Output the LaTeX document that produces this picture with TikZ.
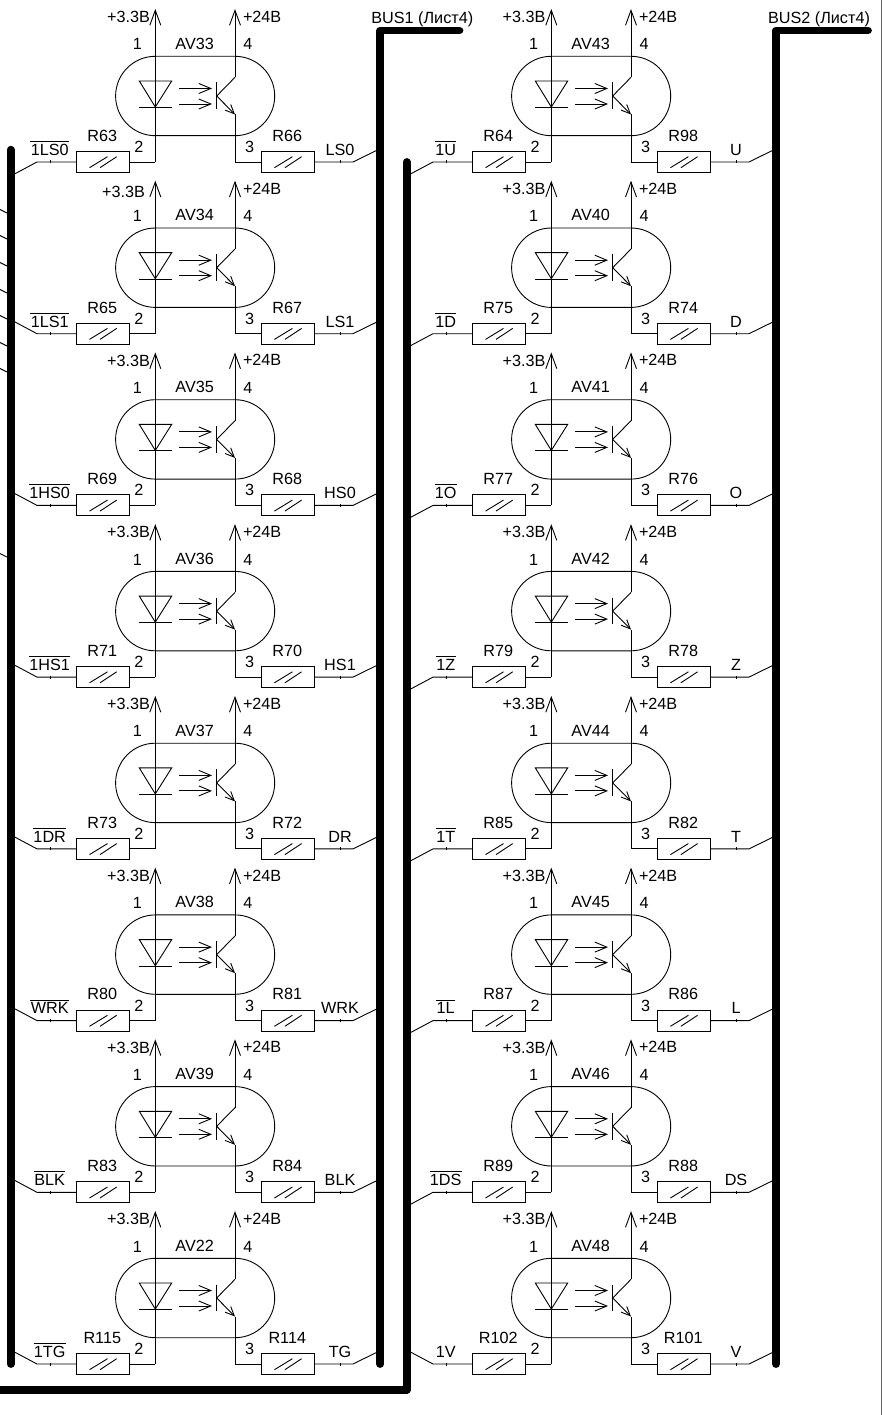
\documentclass[tikz,border=0pt]{standalone}
\usepackage{fontspec}
\setmainfont{Liberation Sans}
\usetikzlibrary{arrows.meta,calc}
\newcommand{\ovl}[1]{\vbox{\hrule height .9pt \kern 2.1pt \hbox{\kern.4pt #1\kern.4pt}}}
\tikzset{
  wire/.style={line width=.9pt,line join=miter},
  supply/.style={wire,-{Straight Barb[length=15pt,width=11pt]}},
  light/.style={wire,-{Straight Barb[length=12pt,width=10pt]}},
  emit/.style={wire,-{Straight Barb[length=9pt,width=8pt]}},
  bus/.style={line width=7.8pt,line cap=round,line join=round},
  lab/.style={inner sep=0pt,outer sep=0pt,anchor=base,font=\fontsize{16.2}{18}\selectfont},
  labr/.style={lab,anchor=base east},
  labl/.style={lab,anchor=base west},
  res/.style={draw,line width=.9pt,rectangle,minimum width=53pt,minimum height=21pt,inner sep=0pt,outer sep=0pt},
}
\begin{document}
\begin{tikzpicture}[x=1pt,y=-1pt]
\useasboundingbox (0,0) rectangle (888,1415);
\fill[white] (0,0) rectangle (888,1415);
% cells: col x-shift / wire y / AV / left R / right R / left label / right label / left diag dy / 3.3V label end x / 3.3V baseline
\foreach \cx/\cy/\av/\rl/\rr/\ll/\lr/\dd/\sx/\sy in {
 0/162/AV33/R63/R66/{\ovl{1LS0}}/LS0/12/150/-139.3,
 0/333.7/AV34/R65/R67/{\ovl{1LS1}}/LS1/-12/145/-136.4,
 0/505.4/AV35/R69/R68/{\ovl{1HS0}}/HS0/-12/150/-139.3,
 0/677.1/AV36/R71/R70/{\ovl{1HS1}}/HS1/-12/150/-139.3,
 0/848.9/AV37/R73/R72/{\ovl{1DR}}/DR/-12/150/-139.3,
 0/1020.6/AV38/R80/R81/{\ovl{WRK}}/WRK/-12/150/-139.3,
 0/1192.3/AV39/R83/R84/{\ovl{BLK}}/BLK/-12/150/-139.3,
 0/1364/AV22/R115/R114/{\ovl{1TG}}/TG/-12/150/-139.3,
 396/162/AV43/R64/R98/{\ovl{1U}}/U/12/149.5/-139.3,
 396/333.7/AV40/R75/R74/{\ovl{1D}}/D/12/149.5/-139.3,
 396/505.4/AV41/R77/R76/{\ovl{1O}}/O/12/149.5/-139.3,
 396/677.1/AV42/R79/R78/{\ovl{1Z}}/Z/12/149.5/-139.3,
 396/848.9/AV44/R85/R82/{\ovl{1T}}/T/12/149.5/-139.3,
 396/1020.6/AV45/R87/R86/{\ovl{1L}}/L/12/149.5/-139.3,
 396/1192.3/AV46/R89/R88/{\ovl{1DS}}/DS/12/149.5/-139.3,
 396/1364/AV48/R102/R101/1V/V/-12/149.5/-139.3}
{
\begin{scope}[shift={(\cx,\cy)}]
  % named points
  \coordinate (\av tipL) at (155.3,-153);
  \coordinate (\av tipR) at (235,-153);
  \coordinate (\av loL) at (155.3,0);
  \coordinate (\av loR) at (235,0);
  \coordinate (\av col) at (235,-84.7);
  \coordinate (\av base) at (216.7,-66);
  \coordinate (\av emi) at (235,-47.5);
  \coordinate (\av inA) at (37,0);
  \coordinate (\av inB) at (14.5,\dd);
  \coordinate (\av outA) at (353,0);
  \coordinate (\av outB) at (376,-11.3);
  % resistors
  \node[res] (\rl) at (102.8,0) {};
  \node[res] (\rr) at (287.7,0) {};
  \draw[wire] (\rl.center) ++(-13.3,5.7) -- ++(18,-11);
  \draw[wire] (\rl.center) ++(-2.8,5.7) -- ++(16.7,-11);
  \draw[wire] (\rr.center) ++(-13.3,5.7) -- ++(18,-11);
  \draw[wire] (\rr.center) ++(-2.8,5.7) -- ++(16.7,-11);
  % input and output connectors
  \draw[wire] (\av inB) -- (\av inA) -- (\rl.west);
  \draw[wire] (\rl.east) -- (\av loL);
  \draw[wire] (\rr.west) -- (\av loR);
  \draw[wire] (\rr.east) -- (\av outA) -- (\av outB);
  % ticks
  \draw[wire] (50,-1.5) -- (50,1.5);
  \draw[wire] (340,-1.5) -- (340,1.5);
  % package
  \draw[wire] (155.3,-105.7) -- (235,-105.7) arc[start angle=-90,end angle=90,radius=39.7]
    -- (155.3,-26.3) arc[start angle=90,end angle=270,radius=39.7] -- cycle;
  % diode and supply
  \draw[supply] (\av loL) -- (\av tipL);
  \draw[wire] (139.3,-81) -- (171.7,-81) -- (155.3,-55) -- cycle;
  \draw[wire] (139.3,-54.5) -- (171.7,-54.5);
  % light arrows
  \draw[light] (179,-73.5) -- (212,-73.5);
  \draw[light] (179,-58) -- (212,-58);
  % transistor
  \draw[wire] (216.7,-79.5) -- (216.7,-52.7);
  \draw[supply] (\av col) -- (\av tipR);
  \draw[wire] (\av col) -- (\av base);
  \draw[emit] (\av base) -- (\av emi);
  \draw[wire] (\av emi) -- (\av loR);
  % texts
  \node[labr] (\av s33) at (\sx,\sy) {+3.3В};
  \node[labl] (\av s24) at (243,-139.5) {+24В};
  \node[lab] (\av p1) at (137.5,-112) {1};
  \node[lab] (\av p4) at (248,-112) {4};
  \node[lab] (\av p2) at (139,-9.5) {2};
  \node[lab] (\av p3) at (249.7,-9.5) {3};
  \node[lab] (\av nm) at (194.7,-112.7) {\av};
  \node[lab] (\av rln) at (102.3,-20.7) {\rl};
  \node[lab] (\av rrn) at (287.3,-20.7) {\rr};
  \node[lab] (\av lln) at (49.7,-6.7) {\ll};
  \node[lab] (\av lrn) at (340,-6.7) {\lr};
\end{scope}
}
% stubs entering the left bus from outside the sheet
\foreach \s [count=\i] in {213,239,266,293,319,346,372,557}{
  \coordinate (st\i) at (0,\s-3.5);
  \coordinate (se\i) at (7,\s);
  \draw[wire] (st\i) -- (se\i);
}
% buses
\coordinate (b1a) at (459.5,30.5); \coordinate (b1b) at (380.3,30.5); \coordinate (b1c) at (380.3,1364);
\coordinate (b2a) at (868,30.5); \coordinate (b2b) at (776,30.5); \coordinate (b2c) at (776,1364);
\coordinate (b3a) at (10.7,149.7); \coordinate (b3b) at (10.7,1364);
\coordinate (b4a) at (406.7,162); \coordinate (b4b) at (406.7,1390); \coordinate (b4c) at (-6,1390);
\draw[bus] (b1a) -- (b1b) -- (b1c);
\draw[bus] (b2a) -- (b2b) -- (b2c);
\draw[bus] (b3a) -- (b3b);
\draw[bus] (b4a) -- (b4b) -- (b4c);
\node[lab] (bus1) at (422.3,23.3) {BUS1 (Лист4)};
\node[lab] (bus2) at (819,23.3) {BUS2 (Лист4)};
% sheet frame
\coordinate (fa) at (881.7,0); \coordinate (fb) at (881.7,1415);
\draw[line width=1pt,black!60] (fa) -- (fb);
\end{tikzpicture}
\end{document}
